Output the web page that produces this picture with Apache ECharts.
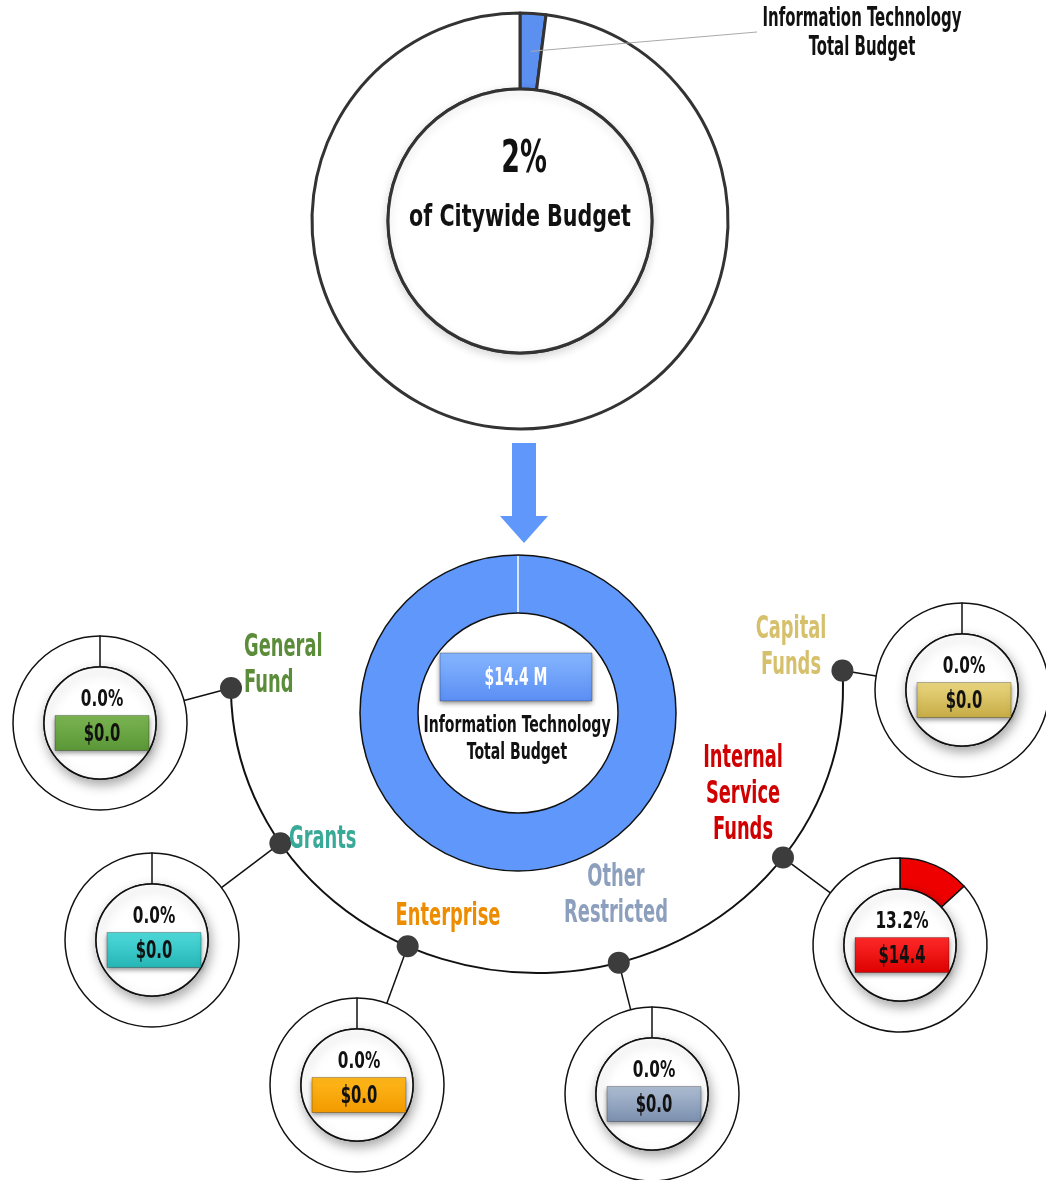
<!DOCTYPE html>
<html>
<head>
<meta charset="utf-8">
<script src="https://cdn.jsdelivr.net/npm/echarts@6/dist/echarts.min.js"></script>
<style>
  html, body { margin: 0; padding: 0; background: #fff; }
  #chart { width: 1046px; height: 1180px; }
</style>
</head>
<body>
<div id="chart"></div>
<script>
// data
const citywideShare = [2, 98];          // IT share of the citywide budget (%)
const itTotal = 14.4;                   // $ M
const funds = ['General\nFund', 'Grants', 'Enterprise', 'Other\nRestricted', 'Internal\nService\nFunds', 'Capital\nFunds'];
const fundShare = [0.0, 0.0, 0.0, 0.0, 13.2, 0.0];   // %
const fundAmount = [0.0, 0.0, 0.0, 0.0, 14.4, 0.0];  // $ M

// layout of the fund donuts (pixels), label spots, dot angle on the arc
const fundLayout = [
  { c: [100, 723],  dot: 180,   lx: 244, ly: 666, align: 'left',   color: '#5b8c3a', box: ['#7bb552', '#5a9636'] },
  { c: [152, 940],  dot: 147,   lx: 289, ly: 840, align: 'left',   color: '#3aaa98', box: ['#4fdada', '#25b5b5'] },
  { c: [357, 1085], dot: 115,   lx: 448, ly: 917, align: 'center', color: '#ee8c00', box: ['#ffb81a', '#f29a00'] },
  { c: [652, 1094], dot: 74.5,  lx: 616, ly: 896, align: 'center', color: '#8c9fbd', box: ['#aebdd2', '#7a8fae'] },
  { c: [900, 945],  dot: 36.5,  lx: 743, ly: 795, align: 'center', color: '#d00000', box: ['#ff2a2a', '#dd0000'] },
  { c: [962, 690],  dot: -3.5,  lx: 791, ly: 648, align: 'center', color: '#d6c06c', box: ['#ead780', '#c6ab45'] }
];

const FONT = "'DejaVu Sans Condensed', 'DejaVu Sans', sans-serif";
const BLUE = '#6097fa';
const arcC = [537, 688], arcRx = 306, arcRy = 285;
const rIn = 56, rOut = 87;

const chart = echarts.init(document.getElementById('chart'));

// condensed bold text: the font is squeezed horizontally around its anchor
function txt(text, x, y, size, sx, fill, align, lh) {
  return {
    type: 'text', z: 120, x: x, y: y, scaleX: sx,
    style: {
      text: text, x: 0, y: 0, fill: fill || '#111',
      font: 'bold ' + size + 'px ' + FONT,
      align: align || 'center', textAlign: align || 'center',
      verticalAlign: 'middle', textVerticalAlign: 'middle',
      lineHeight: lh || size * 1.3
    }
  };
}

function box(cx, cy, w, h, colors) {
  return {
    type: 'rect', z: 110,
    shape: { x: cx - w / 2, y: cy - h / 2, width: w, height: h },
    style: {
      fill: new echarts.graphic.LinearGradient(0, 0, 0, 1, [
        { offset: 0, color: colors[0] },
        { offset: 1, color: colors[1] }
      ]),
      stroke: 'rgba(0,0,0,0.25)', lineWidth: 1,
      shadowBlur: 5, shadowColor: 'rgba(0,0,0,0.45)', shadowOffsetY: 2
    }
  };
}

const series = [];
const graphic = [];

// top donut: share of citywide budget
series.push({
  type: 'pie', center: [520, 221], radius: [132, 208], startAngle: 90, clockwise: true,
  silent: true, label: { show: false }, labelLine: { show: false },
  itemStyle: { borderColor: '#333', borderWidth: 3 },
  data: [
    { value: citywideShare[0], itemStyle: { color: '#5b8ff0' } },
    { value: citywideShare[1], itemStyle: { color: '#fff' } }
  ]
});
series.push({
  type: 'pie', center: [520, 221], radius: [0, 132], silent: true,
  label: { show: false }, labelLine: { show: false },
  itemStyle: { color: '#fff', borderColor: '#333', borderWidth: 3, shadowBlur: 10, shadowColor: 'rgba(0,0,0,0.15)', shadowOffsetY: 3 },
  data: [1]
});
const midA = (citywideShare[0] / 2) / 100 * Math.PI * 2;
graphic.push({
  type: 'line', z: 120,
  shape: { x1: 520 + 170 * Math.sin(midA), y1: 221 - 170 * Math.cos(midA), x2: 757, y2: 32 },
  style: { stroke: '#aaa', lineWidth: 1 }
});
graphic.push(txt('Information Technology\nTotal Budget', 862, 34, 26, 0.64, '#111', 'center', 29));
graphic.push(txt(citywideShare[0] + '%', 524, 161, 44, 0.68));
graphic.push(txt('of Citywide Budget', 520, 218, 31, 0.74));

// arrow
graphic.push({
  type: 'polygon', z: 100,
  shape: { points: [[512, 443], [536, 443], [536, 516], [548, 516], [524, 543], [500, 516], [512, 516]] },
  style: { fill: BLUE }
});

// middle donut: IT total
series.push({
  type: 'pie', center: [518, 713], radius: [100, 158], silent: true,
  label: { show: false }, labelLine: { show: false },
  itemStyle: { color: BLUE, borderColor: '#111', borderWidth: 1.5 },
  data: [itTotal]
});
graphic.push({
  type: 'line', z: 100,
  shape: { x1: 518, y1: 556, x2: 518, y2: 612 },
  style: { stroke: '#fff', lineWidth: 1.5 }
});
graphic.push(box(516, 677, 152, 48, ['#86b6ff', '#5a8ef3']));
graphic.push(txt('$' + itTotal.toFixed(1) + ' M', 516, 678, 25, 0.62, '#fff'));
graphic.push(txt('Information Technology\nTotal Budget', 517, 740, 23, 0.68, '#111', 'center', 27));

// arc that links the funds
graphic.push({
  type: 'arc', z: 90, x: arcC[0], y: arcC[1], scaleY: arcRy / arcRx,
  shape: { cx: 0, cy: 0, r: arcRx, startAngle: fundLayout[5].dot * Math.PI / 180, endAngle: Math.PI, clockwise: true },
  style: { stroke: '#111', lineWidth: 2, fill: null, strokeNoScale: true }
});

funds.forEach(function (name, i) {
  const L = fundLayout[i];
  const share = fundShare[i];
  series.push({
    type: 'pie', center: L.c, radius: [rIn, rOut], startAngle: 90, clockwise: true, silent: true,
    label: { show: false }, labelLine: { show: false },
    itemStyle: { borderColor: '#111', borderWidth: 1.5 },
    data: [
      { value: share, itemStyle: { color: '#ee0000' } },
      { value: 100 - share, itemStyle: { color: '#fff' } }
    ]
  });
  series.push({
    type: 'pie', center: L.c, radius: [0, rIn], silent: true,
    label: { show: false }, labelLine: { show: false },
    itemStyle: { color: '#fff', borderColor: '#111', borderWidth: 1.5, shadowBlur: 12, shadowColor: 'rgba(0,0,0,0.35)', shadowOffsetX: 2, shadowOffsetY: 5 },
    data: [1]
  });
  if (share === 0) {
    graphic.push({
      type: 'line', z: 100,
      shape: { x1: L.c[0], y1: L.c[1] - rOut, x2: L.c[0], y2: L.c[1] - rIn },
      style: { stroke: '#111', lineWidth: 1.5 }
    });
  }
  graphic.push(txt(share.toFixed(1) + '%', L.c[0] + 2, L.c[1] - 23, 23, 0.74));
  graphic.push(box(L.c[0] + 2, L.c[1] + 10, 94, 35, L.box));
  graphic.push(txt('$' + fundAmount[i].toFixed(1), L.c[0] + 2, L.c[1] + 11, 25, 0.66));

  // dot on the arc and connector to the donut
  const a = L.dot * Math.PI / 180;
  const dx = arcC[0] + arcRx * Math.cos(a), dy = arcC[1] + arcRy * Math.sin(a);
  const vx = dx - L.c[0], vy = dy - L.c[1], len = Math.sqrt(vx * vx + vy * vy);
  graphic.push({
    type: 'line', z: 95,
    shape: { x1: dx, y1: dy, x2: L.c[0] + vx / len * rOut, y2: L.c[1] + vy / len * rOut },
    style: { stroke: '#111', lineWidth: 1.5 }
  });
  graphic.push({
    type: 'circle', z: 105, shape: { cx: dx, cy: dy, r: 11 }, style: { fill: '#3c3c3c' }
  });
  graphic.push(txt(name, L.lx, L.ly, 32, 0.62, L.color, L.align, 36));
});

chart.setOption({
  backgroundColor: '#fff',
  animation: false,
  series: series,
  graphic: graphic
});
</script>
</body>
</html>
